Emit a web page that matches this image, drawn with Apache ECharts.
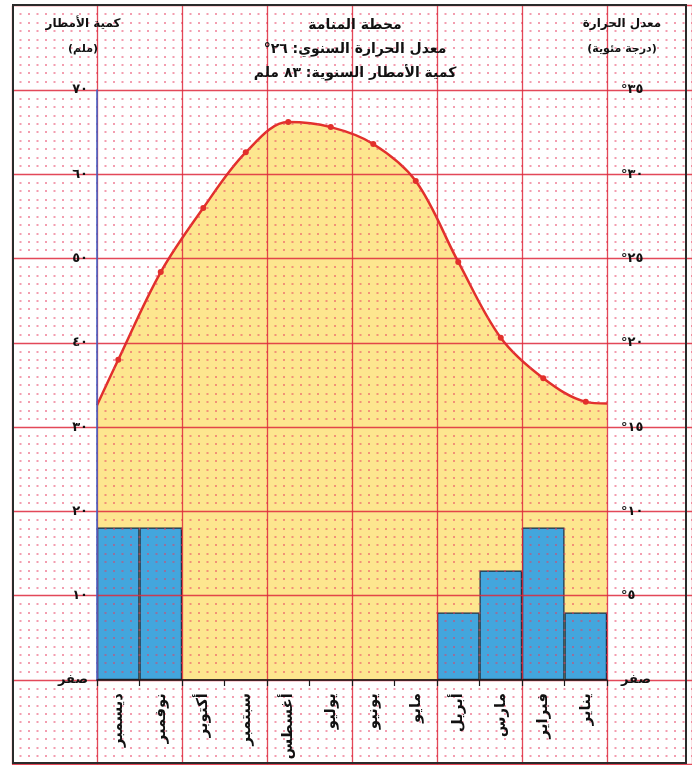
<!DOCTYPE html>
<html>
<head>
<meta charset="utf-8">
<script src="https://cdn.jsdelivr.net/npm/echarts@6/dist/echarts.min.js"></script>
<style>
html,body{margin:0;padding:0;background:#fff;}
#chart{width:692px;height:765px;}
</style>
</head>
<body>
<div id="chart"></div>
<script>
// Months, January..December (axis is drawn right-to-left)
const months = ['يناير','فبراير','مارس','أبريل','مايو','يونيو','يوليو','أغسطس','سبتمبر','أكتوبر','نوفمبر','ديسمبر'];
// Rainfall (mm), January..December
const rainfall = [8, 18.1, 13, 8, 0, 0, 0, 0, 0, 0, 18.1, 18.1];
// Mean temperature (°C), January..December
const temperature = [16.5, 17.9, 20.3, 24.8, 29.6, 31.8, 32.8, 33.1, 31.3, 28.0, 24.2, 19.0];
// Curve value where it meets the plot edges: [January side (right), December side (left)]
const tempEdge = [16.4, 16.3];
// Tick labels
const rainTicks = ['صفر','١٠','٢٠','٣٠','٤٠','٥٠','٦٠','٧٠'];
const tempTicks = ['صفر','°٥','°١٠','°١٥','°٢٠','°٢٥','°٣٠','°٣٥'];
// Titles
const titleLines = ['محطة المنامة','معدل الحرارة السنوي: ٢٦°','كمية الأمطار السنوية: ٨٣ ملم'];
const leftTitle = ['كمية الأمطار','(ملم)'];
const rightTitle = ['معدل الحرارة','(درجة مئوية)'];

const RLE = '\u202B', PDF = '\u202C';
const rtl = s => RLE + s + PDF;
const FONT = 'DejaVu Sans';

const lineData = [{ value: [0, tempEdge[0]], symbol: 'none' }]
  .concat(temperature.map((t, i) => [i + 0.5, t]))
  .concat([{ value: [12, tempEdge[1]], symbol: 'none' }]);

const chart = echarts.init(document.getElementById('chart'), null, { renderer: 'canvas' });

const ts = (size) => ({ fontFamily: FONT, fontWeight: 'bold', fontSize: size, color: '#111' });

chart.setOption({
  animation: false,
  backgroundColor: '#ffffff',
  textStyle: { fontFamily: FONT },
  title: titleLines.map((t, i) => ({
    text: rtl(t), left: 350, top: 13 + i * 24, textAlign: 'center', textStyle: ts(14)
  })).concat([
    { text: rtl(leftTitle[0]), left: 78, top: 13, textAlign: 'center', textStyle: ts(12) },
    { text: rtl(leftTitle[1]), left: 78, top: 39, textAlign: 'center', textStyle: ts(11) },
    { text: rtl(rightTitle[0]), left: 617, top: 13, textAlign: 'center', textStyle: ts(12) },
    { text: rtl(rightTitle[1]), left: 617, top: 39, textAlign: 'center', textStyle: ts(11) }
  ]),
  grid: [
    { left: 97, right: 85, top: 90, height: 590, containLabel: false },
    { left: 12, width: 680, top: 5.7, height: 758.6, containLabel: false }
  ],
  xAxis: [
    {
      type: 'category', gridIndex: 0, data: months, inverse: true, boundaryGap: true, z: 6,
      axisLine: { show: true, onZero: false, lineStyle: { color: '#1a1a1a', width: 1.5 } },
      axisTick: { show: true, length: 6, lineStyle: { color: '#1a1a1a', width: 1.2 } },
      axisLabel: { rotate: 90, margin: 13, fontFamily: FONT, fontWeight: 'bold', fontSize: 15, color: '#111', interval: 0 },
      splitLine: { show: false }
    },
    {
      type: 'value', gridIndex: 0, min: 0, max: 12, inverse: true, show: false
    },
    {
      type: 'value', gridIndex: 1, min: 0, max: 8, interval: 1, z: 4,
      axisLine: { show: false }, axisTick: { show: false }, axisLabel: { show: false },
      splitLine: { show: true, lineStyle: { color: 'rgba(222,40,60,0.85)', width: 1.3 } }
    }
  ],
  yAxis: [
    {
      type: 'value', gridIndex: 0, min: 0, max: 70, interval: 10, position: 'left', z: 6,
      axisLine: { show: true, onZero: false, lineStyle: { color: '#3a5fc8', width: 1.5 } },
      axisTick: { show: false },
      axisLabel: {
        margin: 9, verticalAlign: 'middle', padding: [0, 0, 4, 0], fontFamily: FONT, fontWeight: 'bold', fontSize: 13, color: '#111',
        formatter: (v) => rainTicks[Math.round(v / 10)]
      },
      splitLine: { show: false }
    },
    {
      type: 'value', gridIndex: 0, min: 0, max: 35, interval: 5, position: 'right', z: 6,
      axisLine: { show: false, onZero: false }, axisTick: { show: false },
      axisLabel: {
        margin: 14, verticalAlign: 'middle', fontFamily: FONT, fontWeight: 'bold', fontSize: 13, color: '#111',
        formatter: (v) => tempTicks[Math.round(v / 5)]
      },
      splitLine: { show: false }
    },
    {
      type: 'value', gridIndex: 1, min: 0, max: 9, interval: 1, z: 4,
      axisLine: { show: false }, axisTick: { show: false }, axisLabel: { show: false },
      minorTick: { show: false, splitNumber: 10 },
      splitLine: { show: true, lineStyle: { color: 'rgba(222,40,60,0.85)', width: 1.3 } },
      minorSplitLine: { show: true, lineStyle: { color: 'rgba(232,60,95,0.5)', width: 2, type: [2, 6.5], dashOffset: 1 } }
    }
  ],
  graphic: [
    {
      type: 'rect', z: 30, silent: true,
      shape: { x: 13, y: 5, width: 673, height: 758 },
      style: { fill: 'none', stroke: '#2a2a2a', lineWidth: 2 }
    }
  ],
  series: [
    {
      type: 'line', xAxisIndex: 1, yAxisIndex: 1, z: 2,
      data: lineData, smooth: 0.35,
      symbol: 'circle', symbolSize: 6,
      itemStyle: { color: '#e2302c' },
      lineStyle: { color: '#e2302c', width: 2.5 },
      areaStyle: { color: '#fde68f', opacity: 1 }
    },
    {
      type: 'bar', xAxisIndex: 0, yAxisIndex: 0, z: 3,
      data: rainfall, barCategoryGap: '0%',
      itemStyle: { color: '#43a6dd', borderColor: '#1c2c3c', borderWidth: 1.2 }
    }
  ]
});
</script>
</body>
</html>
